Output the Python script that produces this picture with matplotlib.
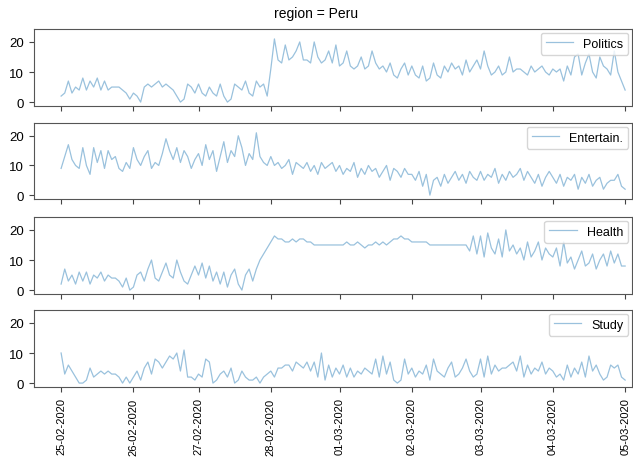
import numpy as np
from matplotlib import pyplot as plt

plt.rcParams['font.family'] = ['Liberation Sans', 'DejaVu Sans']

# numero de amostras em cada dia (29-02 nao aparece nos dados)
dias = ["25-02-2020", "26-02-2020", "27-02-2020", "28-02-2020", "01-03-2020",
        "02-03-2020", "03-03-2020", "04-03-2020", "05-03-2020"]
amostras_dia = [20, 18, 20, 19, 20, 19, 20, 20]

politics = [2, 3, 7, 3, 5, 4, 8, 4, 7, 5, 8, 4, 7, 4, 5, 5, 5, 4, 3, 1,
            3, 2, 0, 5, 6, 5, 6, 7, 5, 6, 5, 4, 2, 0, 1, 6, 5, 3,
            6, 3, 2, 5, 3, 2, 6, 2, 0, 1, 6, 5, 4, 7, 3, 2, 7, 5, 6, 2,
            11, 21, 14, 13, 19, 14, 15, 17, 20, 14, 14, 13, 20, 15, 13, 14, 17, 13, 19,
            12, 13, 17, 12, 11, 12, 15, 11, 12, 17, 13, 11, 12, 10, 13, 9, 8, 11, 13, 9,
            12, 9, 8, 12, 7, 8, 13, 9, 8, 12, 10, 13, 11, 12, 9, 14, 10, 12, 14,
            11, 17, 12, 9, 10, 12, 9, 10, 15, 10, 11, 11, 10, 9, 12, 10, 11, 12, 10, 9,
            11, 10, 11, 7, 12, 9, 15, 16, 9, 13, 16, 10, 8, 15, 12, 11, 9, 17, 10, 7,
            4]

entertain = [9, 13, 17, 12, 10, 9, 16, 10, 7, 16, 11, 15, 9, 15, 12, 13, 9, 8, 11, 9,
             16, 12, 10, 13, 15, 9, 11, 10, 14, 19, 15, 12, 16, 11, 15, 13, 9, 12,
             14, 10, 17, 12, 15, 8, 13, 18, 11, 15, 13, 20, 16, 10, 14, 12, 21, 13, 11, 10,
             13, 10, 11, 9, 10, 12, 7, 11, 10, 9, 11, 8, 10, 7, 11, 9, 10, 11, 8,
             10, 7, 9, 8, 11, 6, 9, 7, 10, 8, 9, 6, 8, 10, 5, 9, 8, 6, 9, 7,
             7, 5, 8, 3, 7, 0, 5, 6, 3, 7, 4, 6, 8, 5, 7, 4, 8, 6, 5,
             8, 5, 7, 6, 9, 4, 7, 5, 8, 6, 7, 9, 5, 8, 6, 4, 7, 3, 6, 8,
             6, 4, 7, 3, 6, 5, 7, 2, 6, 4, 7, 3, 5, 6, 2, 4, 5, 5, 7, 3,
             2]

health = [2, 7, 3, 5, 2, 6, 3, 6, 2, 5, 4, 6, 3, 5, 4, 4, 3, 1, 4, 0,
          1, 5, 6, 3, 7, 10, 4, 3, 6, 9, 5, 4, 10, 6, 3, 2, 5, 8,
          5, 9, 4, 8, 3, 6, 2, 6, 1, 5, 7, 2, 0, 5, 7, 3, 7, 10, 12, 14,
          16, 18, 17, 17, 16, 16, 17, 16, 17, 17, 16, 16, 15, 15, 15, 15, 15, 15, 15,
          15, 15, 16, 15, 15, 16, 15, 14, 15, 15, 16, 15, 16, 15, 16, 17, 17, 18, 17, 17,
          16, 16, 16, 16, 16, 15, 15, 15, 15, 15, 15, 15, 15, 15, 15, 15, 13, 18, 12,
          18, 11, 19, 14, 12, 17, 11, 20, 13, 15, 12, 14, 10, 16, 11, 13, 16, 10, 14, 12,
          11, 14, 8, 16, 9, 11, 7, 10, 13, 8, 9, 12, 7, 10, 12, 8, 13, 9, 12, 8,
          8]

study = [10, 3, 6, 4, 2, 0, 0, 1, 5, 2, 3, 4, 3, 4, 3, 3, 2, 0, 2, 0,
         2, 4, 1, 5, 7, 3, 8, 7, 5, 7, 9, 8, 10, 4, 11, 2, 2, 1,
         3, 2, 8, 7, 0, 1, 3, 4, 2, 5, 0, 1, 4, 2, 1, 1, 2, 0, 2, 3,
         4, 2, 5, 5, 6, 6, 4, 7, 6, 5, 7, 4, 7, 2, 10, 1, 6, 2, 5,
         3, 6, 2, 5, 2, 4, 3, 5, 4, 3, 8, 2, 9, 3, 7, 1, 0, 1, 8, 3,
         5, 2, 4, 3, 6, 1, 8, 4, 3, 2, 5, 7, 2, 3, 5, 8, 4, 2, 3,
         8, 2, 9, 3, 6, 4, 5, 5, 6, 7, 4, 9, 2, 6, 3, 5, 4, 7, 3, 5,
         4, 2, 3, 1, 6, 2, 5, 3, 7, 2, 9, 4, 6, 3, 1, 2, 6, 5, 6, 2,
         1]

series = [("Politics", politics), ("Entertain.", entertain),
          ("Health", health), ("Study", study)]

ticks = np.concatenate(([0], np.cumsum(amostras_dia)))
x = np.arange(len(politics))

fig = plt.figure(figsize=(6.33, 4.6), dpi=100)
fig.suptitle("region = Peru", fontsize=10, y=0.985)

# posicoes (em pixels) topo/base de cada painel
paineis = [(30, 107), (124, 200), (218, 295), (311, 388)]
W, H = 633, 460

for k, (nome, vals) in enumerate(series):
    topo, base = paineis[k]
    ax = fig.add_axes([34 / W, 1 - base / H, (632 - 34) / W, (base - topo) / H])
    ax.plot(x, vals, '-', color='#1f77b4', alpha=0.45, lw=0.9, label=nome)
    ax.set_xlim(-7.5, ticks[-1] + 1.9)
    ax.set_ylim(-1.3, 24.3)
    ax.set_yticks([0, 10, 20])
    ax.set_xticks(ticks)
    if k == len(series) - 1:
        ax.set_xticklabels(dias, rotation=90)
    else:
        ax.set_xticklabels([])
    ax.tick_params(labelsize=9.5, length=3.5, color='#444444')
    ax.tick_params(axis='x', labelsize=8, pad=4)
    for s in ax.spines.values():
        s.set_color('#555555')
    ax.legend(loc='upper right', fontsize=9, handlelength=2.2,
              borderaxespad=0.3, fancybox=True)

plt.savefig("out.png", dpi=100)
